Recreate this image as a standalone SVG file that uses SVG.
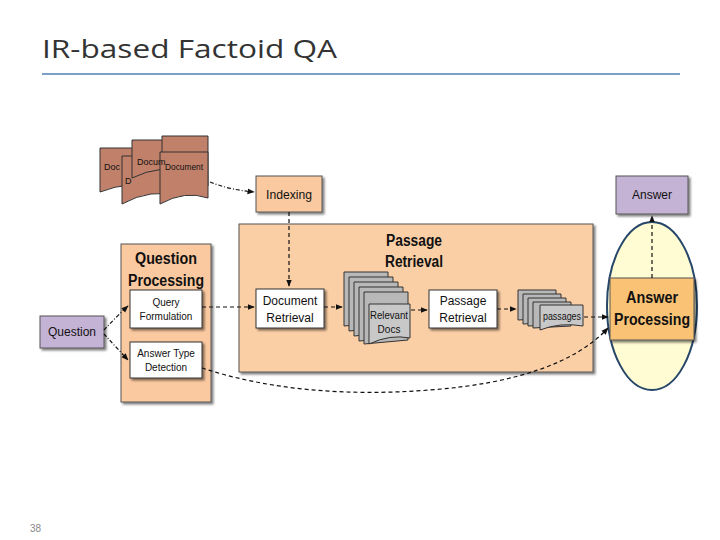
<svg xmlns="http://www.w3.org/2000/svg" width="720" height="540" viewBox="0 0 720 540">
<defs>
<marker id="ah" viewBox="0 0 10 10" refX="9" refY="5" markerWidth="6" markerHeight="6" orient="auto"><path d="M0,1 L10,5 L0,9 z" fill="#111"/></marker>
<filter id="sh" x="-10%" y="-10%" width="130%" height="130%"><feDropShadow dx="2" dy="2" stdDeviation="1" flood-color="#000" flood-opacity="0.5"/></filter>
</defs>
<style>
text{font-family:"Liberation Sans",Arial,sans-serif;fill:#111}
.or{fill:#fbc9a0;stroke:#555;stroke-width:1;filter:url(#sh)}
.wh{fill:#fff;stroke:#333;stroke-width:1;filter:url(#sh)}
.pu{fill:#c5b3d6;stroke:#555;stroke-width:1;filter:url(#sh)}
.doc{fill:#c0806a;stroke:#333;stroke-width:1}
.gr{fill:#b8b8b8;stroke:#333;stroke-width:1}
.c{fill:none;stroke:#111;stroke-width:1.2;stroke-dasharray:4,3;marker-end:url(#ah)}
.dd{fill:none;stroke:#111;stroke-width:1.2;stroke-dasharray:4,2,1,2;marker-end:url(#ah)}
.s{font-size:12px;text-anchor:middle}
.b{font-size:16px;font-weight:bold;text-anchor:middle}
</style>
<text x="42" y="58" style="font-family:'Open Sans',sans-serif;font-size:26px;fill:#333" textLength="295" lengthAdjust="spacingAndGlyphs">IR-based Factoid QA</text>
<line x1="42" y1="74" x2="680" y2="74" stroke="#4f7fb5" stroke-width="1.5"/>
<text x="30" y="532" style="font-size:10px;fill:#888">38</text>

<g id="documents">
<path class="doc" d="M100,148 H160 V188 Q130,180 100,192 Z"/>
<path class="doc" d="M122,156 H182 V196 Q150,188 122,204 Z"/>
<path class="doc" d="M132,140 H190 V172 Q160,164 132,178 Z"/>
<path class="doc" d="M162,136 H208 V186 Q185,180 162,190 Z"/>
<path class="doc" d="M160,152 H208 V198 Q185,190 160,204 Z"/>
<text x="104" y="170" style="font-size:9px">Doc</text>
<text x="125" y="184" style="font-size:9px">D</text>
<text x="137" y="165" style="font-size:9px">Docum</text>
<text x="165" y="170" style="font-size:9px" textLength="38" lengthAdjust="spacingAndGlyphs">Document</text>
</g>

<g id="passage-retrieval-group">
<rect class="or" x="239" y="224" width="354" height="148" style="fill:#fbcfa6"/>
<text class="b" x="414" y="246" textLength="56" lengthAdjust="spacingAndGlyphs">Passage</text>
<text class="b" x="414" y="267" textLength="58" lengthAdjust="spacingAndGlyphs">Retrieval</text>
</g>

<g id="indexing"><rect class="or" x="256" y="176" width="66" height="36"/><text class="s" x="289" y="199" textLength="46" lengthAdjust="spacingAndGlyphs">Indexing</text></g>
<g id="answer"><rect class="pu" x="616" y="176" width="72" height="38"/><text class="s" x="652" y="199">Answer</text></g>
<g id="question"><rect class="pu" x="40" y="316" width="64" height="32"/><text class="s" x="72" y="336">Question</text></g>

<g id="question-processing">
<rect class="or" x="121" y="244" width="90" height="158"/>
<text class="b" x="166" y="264" textLength="62" lengthAdjust="spacingAndGlyphs">Question</text>
<text class="b" x="166" y="286" textLength="76" lengthAdjust="spacingAndGlyphs">Processing</text>
</g>
<g id="query-formulation"><rect class="wh" x="130" y="290" width="72" height="38"/><text class="s" x="166" y="306" style="font-size:10px">Query</text><text class="s" x="166" y="320" style="font-size:10px">Formulation</text></g>
<g id="answer-type-detection"><rect class="wh" x="130" y="342" width="72" height="36"/><text class="s" x="166" y="357" style="font-size:10px">Answer Type</text><text class="s" x="166" y="371" style="font-size:10px">Detection</text></g>

<g id="document-retrieval"><rect class="wh" x="256" y="289" width="68" height="39"/><text class="s" x="290" y="305">Document</text><text class="s" x="290" y="322">Retrieval</text></g>

<g id="relevant-docs">
<path class="gr" d="M344,272 H388 V322 L344,326 Z"/>
<path class="gr" d="M349,277 H393 V327 L349,331 Z"/>
<path class="gr" d="M354,282 H398 V332 L354,336 Z"/>
<path class="gr" d="M359,287 H403 V337 L359,341 Z"/>
<path class="gr" d="M364,292 H408 V340 L364,344 Z"/>
<path class="gr" d="M369,304 H410 V338 Q390,334 369,344 Z" style="fill:#c8c8c8"/>
<text class="s" x="389" y="319" style="font-size:10px" textLength="38" lengthAdjust="spacingAndGlyphs">Relevant</text>
<text class="s" x="389" y="333" style="font-size:10px">Docs</text>
</g>

<g id="passage-retrieval"><rect class="wh" x="429" y="290" width="68" height="38"/><text class="s" x="463" y="305">Passage</text><text class="s" x="463" y="322">Retrieval</text></g>

<g id="passages">
<path class="gr" d="M518,290 H556 V318 L518,320 Z"/>
<path class="gr" d="M523,294 H561 V322 L523,324 Z"/>
<path class="gr" d="M528,298 H566 V324 L528,326 Z"/>
<path class="gr" d="M533,302 H571 V326 L533,328 Z"/>
<path class="gr" d="M540,305 H583 V326 Q560,322 540,330 Z" style="fill:#c8c8c8"/>
<text class="s" x="562" y="320" style="font-size:10px" textLength="38" lengthAdjust="spacingAndGlyphs">passages</text>
</g>

<g id="answer-processing">
<ellipse cx="652" cy="306" rx="45" ry="84" fill="#fffbd2" stroke="#26466a" stroke-width="2"/>
<rect class="or" x="610" y="278" width="84" height="62" style="fill:#f9c274"/>
<text class="b" x="652" y="303" textLength="52" lengthAdjust="spacingAndGlyphs">Answer</text>
<text class="b" x="652" y="325" textLength="76" lengthAdjust="spacingAndGlyphs">Processing</text>
</g>

<g id="connectors">
<path class="dd" d="M210,182 Q230,190 254,192"/>
<path class="c" d="M289,212 V286"/>
<path class="dd" d="M104,330 Q115,318 128,306"/>
<path class="dd" d="M104,334 Q115,346 128,360"/>
<path class="c" d="M202,307 H254"/>
<path class="c" d="M324,307 H342"/>
<path class="c" d="M411,310 H427"/>
<path class="c" d="M497,309 H516"/>
<path class="c" d="M584,317 H608"/>
<path class="c" d="M202,368 Q300,400 430,390 Q560,380 608,328"/>
<path class="c" d="M652,278 V216"/>
</g>
</svg>
